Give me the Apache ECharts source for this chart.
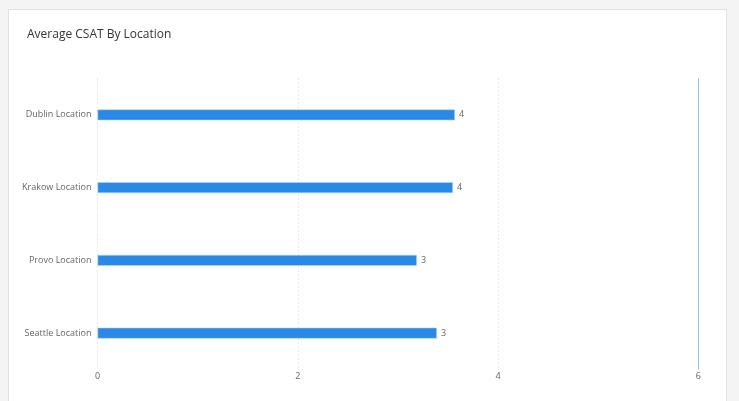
<!DOCTYPE html>
<html>
<head>
<meta charset="utf-8">
<script src="https://cdn.jsdelivr.net/npm/echarts@6/dist/echarts.min.js"></script>
<style>
  html, body { margin:0; padding:0; background:#f4f4f4; width:739px; height:401px; overflow:hidden; }
  #card { position:absolute; left:8px; top:9px; width:719px; height:400px; background:#fff; border:1px solid #e0e0e0; box-sizing:border-box; }
  #chart { position:absolute; left:0; top:0; width:739px; height:401px; }
</style>
</head>
<body>
<div id="card"></div>
<div id="chart"></div>
<script>
const titleText = 'Average CSAT By Location';
const categories = ['Dublin Location', 'Krakow Location', 'Provo Location', 'Seattle Location'];
const csatValues = [3.57, 3.55, 3.19, 3.39];
const xTicks = { min: 0, max: 6, interval: 2 };

const chart = echarts.init(document.getElementById('chart'), null, { renderer: 'canvas' });
chart.setOption({
  backgroundColor: 'transparent',
  animation: false,
  title: {
    text: titleText,
    left: 22,
    top: 24,
    textStyle: { fontFamily: 'Open Sans', fontSize: 12, fontWeight: 'normal', color: '#333' }
  },
  grid: { left: 97.5, right: 40.7, top: 78.5, height: 291, containLabel: false },
  xAxis: {
    type: 'value',
    min: xTicks.min, max: xTicks.max, interval: xTicks.interval,
    axisLine: { show: false },
    axisTick: { show: false },
    axisLabel: { fontFamily: 'Open Sans', fontSize: 9, color: '#666', margin: 2 },
    splitLine: { show: true, lineStyle: { type: [1, 3], color: '#cfcfcf', width: 1 } }
  },
  yAxis: {
    type: 'category',
    data: categories,
    inverse: true,
    axisLine: { show: false },
    axisTick: { show: false },
    axisLabel: { fontFamily: 'Open Sans', fontSize: 9, color: '#666', margin: 6 }
  },
  series: [{
    type: 'bar',
    data: csatValues,
    barWidth: 11,
    itemStyle: { color: '#2a89e4', borderColor: '#b3d6f5', borderWidth: 0.6 },
    label: {
      show: true, position: 'right', distance: 4,
      fontFamily: 'Open Sans', fontSize: 9, color: '#666',
      formatter: p => String(Math.round(p.value))
    },
    markLine: {
      silent: true,
      symbol: 'none',
      label: { show: false },
      lineStyle: { type: 'solid', color: '#86c1f0', width: 1 },
      data: [{ xAxis: xTicks.max }]
    }
  }]
});
</script>
</body>
</html>
